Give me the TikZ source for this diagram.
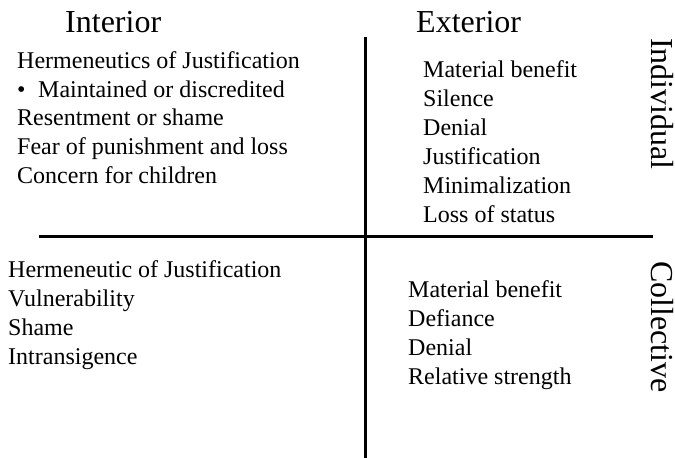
\documentclass[tikz,border=0pt]{standalone}
\usepackage{fontspec}
\setmainfont{Liberation Serif}
\begin{document}
\begin{tikzpicture}[x=1pt,y=-1pt,
  item/.style={anchor=base west,inner sep=0pt,font=\fontsize{24}{28}\selectfont},
  head/.style={anchor=base west,inner sep=0pt,font=\fontsize{32}{36}\selectfont},
  side/.style={inner sep=0pt,rotate=-90,font=\fontsize{32}{36}\selectfont},
  axis/.style={line width=3pt}]
\useasboundingbox (0,0) rectangle (675,458);
% axes
\coordinate (vtop) at (365,37);
\coordinate (vbot) at (365,458);
\coordinate (hleft) at (39,236);
\coordinate (hright) at (653,236);
\draw[axis] (vtop) -- (vbot);
\draw[axis] (hleft) -- (hright);
% headings
\node[head] (interior) at (65,32) {Interior};
\node[head] (exterior) at (416,32) {Exterior};
\node[side] (individual) at (662,104) {Individual};
\node[side] (collective) at (662,327) {Collective};
% top-left
\node[item] (tl1) at (17,68) {Hermeneutics of Justification};
\node[item] (tl2) at (17,97) {\makebox[21pt][l]{•}Maintained or discredited};
\node[item] (tl3) at (17,125) {Resentment or shame};
\node[item] (tl4) at (17,154) {Fear of punishment and loss};
\node[item] (tl5) at (17,183) {Concern for children};
% top-right
\node[item] (tr1) at (423,77) {Material benefit};
\node[item] (tr2) at (423,106) {Silence};
\node[item] (tr3) at (423,135) {Denial};
\node[item] (tr4) at (423,164) {Justification};
\node[item] (tr5) at (423,193) {Minimalization};
\node[item] (tr6) at (423,222) {Loss of status};
% bottom-left
\node[item] (bl1) at (8,277) {Hermeneutic of Justification};
\node[item] (bl2) at (8,306) {Vulnerability};
\node[item] (bl3) at (8,335) {Shame};
\node[item] (bl4) at (8,364) {Intransigence};
% bottom-right
\node[item] (br1) at (408,297) {Material benefit};
\node[item] (br2) at (408,326) {Defiance};
\node[item] (br3) at (408,355) {Denial};
\node[item] (br4) at (408,384) {Relative strength};
\end{tikzpicture}
\end{document}
